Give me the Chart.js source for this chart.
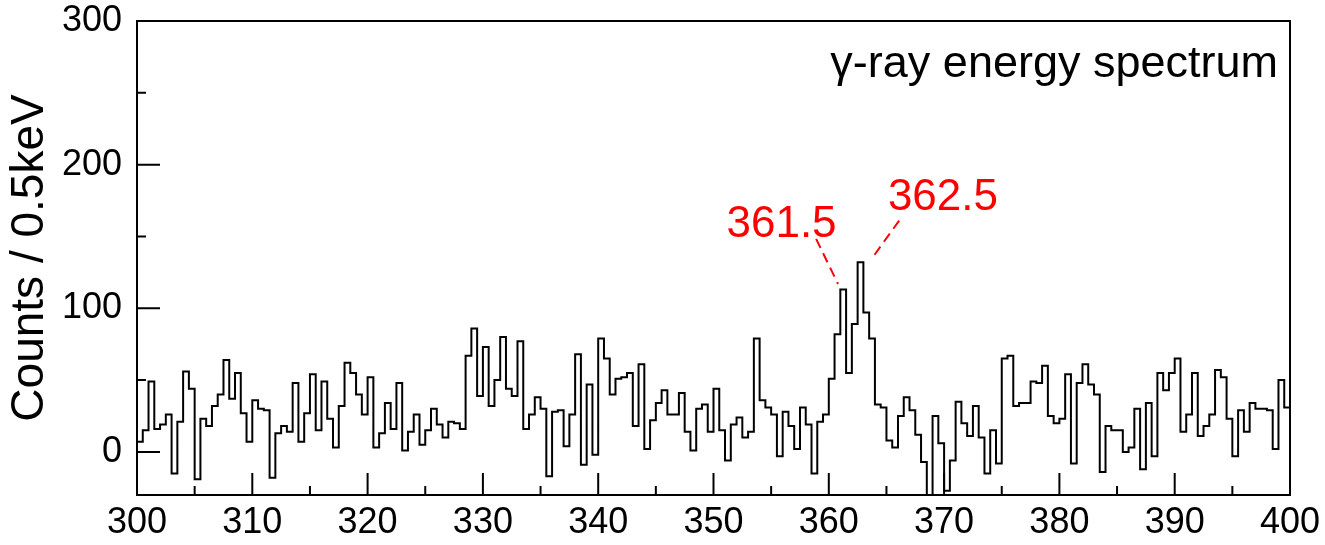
<!DOCTYPE html>
<html>
<head>
<meta charset="utf-8">
<title>γ-ray energy spectrum</title>
<script src="https://cdn.jsdelivr.net/npm/chart.js@4.4.1/dist/chart.umd.min.js"></script>
<style>
  html, body { margin: 0; padding: 0; background: #fff; }
  canvas { display: block; }
</style>
</head>
<body>
<canvas id="spectrum" width="1325" height="545"></canvas>
<script>
// Histogram binning (keV)
const energyMin = 300;
const energyMax = 400;
const binWidth = 0.5;

// Counts per 0.5 keV bin, from 300.0 keV up to 400.0 keV
const counts = [
   7, 15, 49, 16, 19, 26, -15, 21, 56, 44, -19, 23, 18, 32, 40, 64, 37, 55, 27,  7,
  36, 30, 29, -18, 13, 18, 14, 48,  7, 27, 54, 15, 49, 23,  3, 32, 62, 55, 40, 26,
  52,  3, 13, 34, 16, 48,  1, 14, 26,  5, 15, 30, 19, 10, 21, 20, 16, 67, 86, 39,
  73, 32, 50, 80, 44, 39, 77, 16, 26, 38, 30, -17, 28, 29,  4, 26, 68, -9, 47, -2,
  79, 65, 40, 51, 52, 55, 18, 61,  2, 22, 34, 43, 26, 26, 41, 14,  1, 30, 33, 14,
  44, 15, -6, 19, 24, 10, 14, 79, 36, 31, 26, -3, 28, 18,  2, 31, 19, -15, 21, 26,
  51, 82, 113, 55, 89, 132, 97, 79, 33, 31,  8,  3, 25, 38, 29, 12, -7, -35, 25,  6,
 -27, -6, 35, 20, 11, 32, 10, -15, 15, -8, 65, 67, 32, 34, 34, 49, 48, 60, 25, 20,
  23, 54, -8, 48, 61, 47, 40, -14, 18, 15, 15,  0,  3, 30, -12, 34, -3, 55, 43, 55,
  65, 14, 26, 55, 11, 18, 26, 57, 52, 23, -3, 29, 14, 34, 30, 30, 29,  2, 50, 31
];

// Axis tick labels
const xTicks = [300, 310, 320, 330, 340, 350, 360, 370, 380, 390, 400];
const yTicks = [0, 100, 200, 300];
const yMin = -30;
const yMax = 300;

// Peak energies named on the plot
const peakNames = ['361.5', '362.5'];

// Where each peak label and its dashed leader sit, in (keV, counts)
const peakNotes = [
  { text: peakNames[0], at: [355.9, 149.6], from: [358.9, 148.3], to: [360.8, 116.9] },
  { text: peakNames[1], at: [369.9, 168.4], from: [366.1, 161.0], to: [363.7, 134.3] }
];

const FONT = '"Liberation Sans", Arial, Helvetica, sans-serif';

// Step-histogram points at the lower edge of every bin, closed at the upper edge
const histPoints = counts.map((c, i) => ({ x: energyMin + i * binWidth, y: c }));
histPoints.push({ x: energyMax, y: counts[counts.length - 1] });

// Frame, inward tick marks, legend text and peak labels
const decorations = {
  id: 'decorations',
  afterDatasetsDraw(chart) {
    const { ctx, chartArea: a, scales: { x, y } } = chart;
    ctx.save();

    ctx.strokeStyle = '#000';
    ctx.lineWidth = 2;
    ctx.strokeRect(a.left, a.top, a.right - a.left, a.bottom - a.top);

    ctx.beginPath();
    for (let e = energyMin; e <= energyMax; e += 5) {
      const px = x.getPixelForValue(e);
      const len = (e % 10 === 0) ? 22 : 9;
      ctx.moveTo(px, a.bottom);
      ctx.lineTo(px, a.bottom - len);
    }
    for (let v = Math.ceil(yMin / 50) * 50; v <= yMax; v += 50) {
      const py = y.getPixelForValue(v);
      const len = (v % 100 === 0) ? 23 : 9;
      ctx.moveTo(a.left, py);
      ctx.lineTo(a.left + len, py);
    }
    ctx.stroke();

    ctx.fillStyle = '#000';
    ctx.font = '45px ' + FONT;
    ctx.textAlign = 'right';
    ctx.textBaseline = 'alphabetic';
    ctx.fillText('γ-ray energy spectrum', a.right - 12, a.top + 56);

    ctx.strokeStyle = '#ff0000';
    ctx.fillStyle = '#ff0000';
    ctx.lineWidth = 2;
    ctx.setLineDash([10, 6]);
    peakNotes.forEach(n => {
      ctx.beginPath();
      ctx.moveTo(x.getPixelForValue(n.from[0]), y.getPixelForValue(n.from[1]));
      ctx.lineTo(x.getPixelForValue(n.to[0]), y.getPixelForValue(n.to[1]));
      ctx.stroke();
    });
    ctx.setLineDash([]);
    ctx.font = '44px ' + FONT;
    ctx.textAlign = 'center';
    peakNotes.forEach(n => {
      ctx.fillText(n.text, x.getPixelForValue(n.at[0]), y.getPixelForValue(n.at[1]));
    });

    ctx.restore();
  }
};

new Chart(document.getElementById('spectrum'), {
  type: 'line',
  data: {
    datasets: [{
      data: histPoints,
      stepped: 'before',
      borderColor: '#000',
      borderWidth: 2,
      pointRadius: 0,
      fill: false,
      tension: 0
    }]
  },
  options: {
    responsive: false,
    animation: false,
    events: [],
    layout: { padding: { top: 21, right: 35, left: 0, bottom: 0 } },
    plugins: { legend: { display: false }, tooltip: { enabled: false } },
    scales: {
      x: {
        type: 'linear',
        min: energyMin,
        max: energyMax,
        afterFit(s) { s.height = 50; s.paddingLeft = 0; s.paddingRight = 0; },
        afterBuildTicks(s) { s.ticks = xTicks.map(v => ({ value: v })); },
        grid: { display: false, drawTicks: false },
        border: { display: false },
        ticks: {
          color: '#000',
          font: { family: FONT, size: 36 },
          padding: 6,
          maxRotation: 0,
          autoSkip: false,
          callback: v => String(v)
        }
      },
      y: {
        type: 'linear',
        min: yMin,
        max: yMax,
        afterFit(s) { s.width = 137; s.paddingTop = 0; s.paddingBottom = 0; },
        afterBuildTicks(s) { s.ticks = yTicks.map(v => ({ value: v })); },
        grid: { display: false, drawTicks: false },
        border: { display: false },
        ticks: {
          color: '#000',
          font: { family: FONT, size: 36 },
          padding: 15,
          autoSkip: false,
          callback: v => String(v)
        },
        title: {
          display: true,
          text: 'Counts / 0.5keV',
          color: '#000',
          font: { family: FONT, size: 46 },
          padding: { top: 3, bottom: 0 }
        }
      }
    }
  },
  plugins: [decorations]
});
</script>
</body>
</html>
